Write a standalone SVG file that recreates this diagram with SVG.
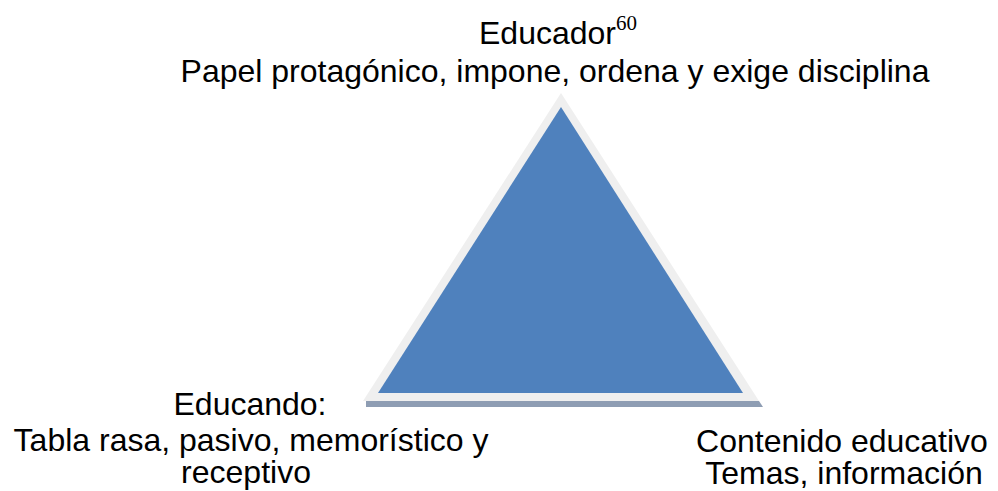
<svg xmlns="http://www.w3.org/2000/svg" width="998" height="491" viewBox="0 0 998 491">
<style>
.t{font-family:"Liberation Sans",Arial,sans-serif;font-size:32px;fill:#000;text-anchor:middle}
.sup{font-family:"Liberation Serif","Times New Roman",serif;font-size:21px;fill:#000}
</style>
<rect width="998" height="491" fill="#fff"/>
<g id="triangle">
<polygon points="366,401 759,401 763,407 366,407" fill="#8e9db3"/>
<polygon points="561,93 363,401 759,401" fill="#efefef"/>
<polygon points="561,107 378,393 743,393" fill="#4f81bd"/>
</g>
<g id="connectors"></g>
<g id="educador">
<text class="t" x="558" y="44">Educador<tspan class="sup" dy="-14">60</tspan></text>
<text class="t" x="555" y="82">Papel protagónico, impone, ordena y exige disciplina</text>
</g>
<g id="educando">
<text class="t" x="250" y="415">Educando:</text>
<text class="t" x="251" y="451">Tabla rasa, pasivo, memorístico y</text>
<text class="t" x="246" y="483">receptivo</text>
</g>
<g id="contenido">
<text class="t" x="842" y="452">Contenido educativo</text>
<text class="t" x="844" y="484">Temas, información</text>
</g>
</svg>
